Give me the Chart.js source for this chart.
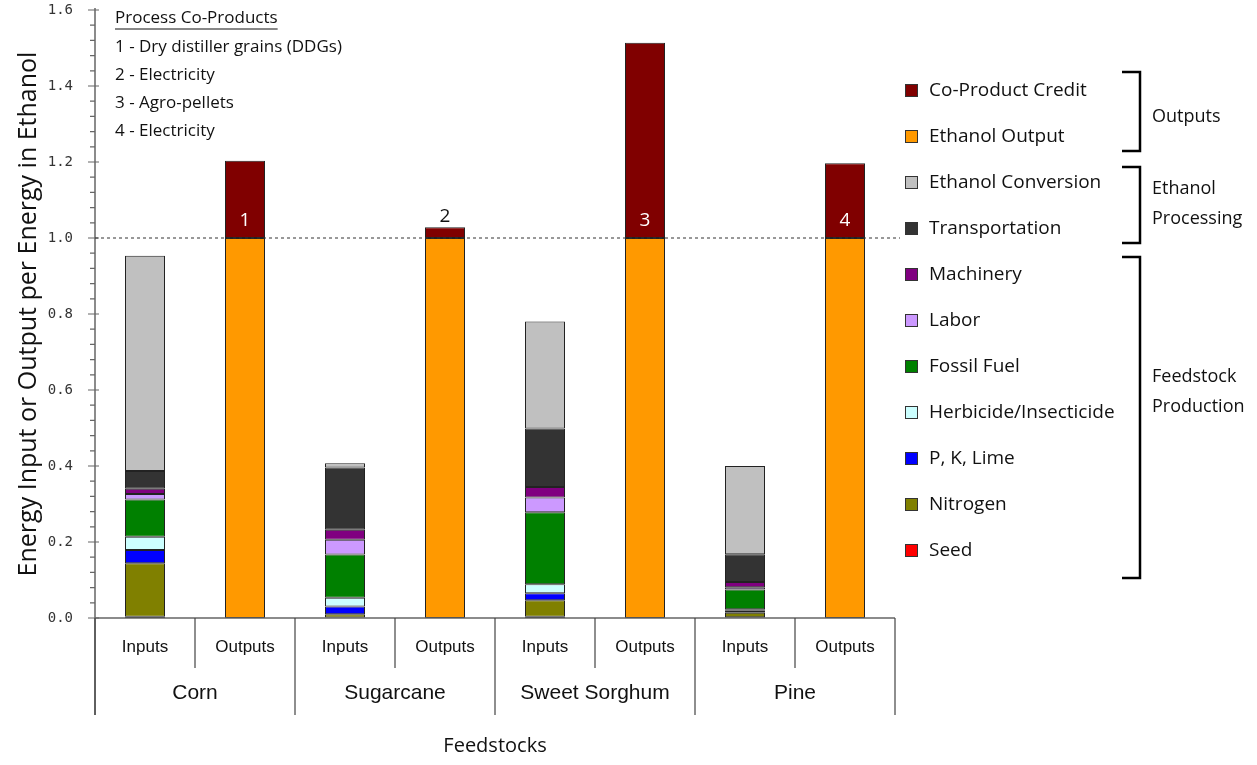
<!DOCTYPE html>
<html>
<head>
<meta charset="utf-8">
<script src="https://cdn.jsdelivr.net/npm/chart.js@4.4.0/dist/chart.umd.min.js"></script>
<style>
html, body { margin: 0; padding: 0; background: #fff; }
#wrap { position: relative; width: 1257px; height: 765px; }
</style>
</head>
<body>
<div id="wrap"><canvas id="energy-chart" width="1257" height="765"></canvas></div>
<script>
// 1. DATOS
const categories = ['Inputs', 'Outputs', 'Inputs', 'Outputs', 'Inputs', 'Outputs', 'Inputs', 'Outputs'];
const feedstocks = ['Corn', 'Sugarcane', 'Sweet Sorghum', 'Pine'];

// inputs (Corn, Sugarcane, Sweet Sorghum, Pine)
const seed           = [0.003, 0.001, 0.003, 0.002];
const nitrogen       = [0.141, 0.009, 0.044, 0.012];
const pkLime         = [0.035, 0.020, 0.018, 0.005];
const herbicide      = [0.035, 0.023, 0.024, 0.004];
const fossilFuel     = [0.098, 0.114, 0.189, 0.052];
const labor          = [0.014, 0.039, 0.039, 0.006];
const machinery      = [0.014, 0.026, 0.028, 0.014];
const transportation = [0.047, 0.164, 0.154, 0.073];
const conversion     = [0.566, 0.011, 0.281, 0.232];

// outputs
const ethanolOutput   = [1.0, 1.0, 1.0, 1.0];
const coProductCredit = [0.203, 0.028, 0.514, 0.197];
const coProductMarks  = ['1', '2', '3', '4'];
const coProductNotes  = ['1 - Dry distiller grains (DDGs)', '2 - Electricity', '3 - Agro-pellets', '4 - Electricity'];

const yTicks = [0, 0.2, 0.4, 0.6, 0.8, 1.0, 1.2, 1.4, 1.6];

const calibri = '"Open Sans", Lato, sans-serif';
const arial = '"Liberation Sans", Arial, sans-serif';

// inputs van en la columna 0, outputs en la 1 de cada grupo
const asInputs = arr => arr.flatMap(v => [v, null]);
const asOutputs = arr => arr.flatMap(v => [null, v]);

const series = [
    { label: 'Seed', data: asInputs(seed), color: '#ff0000' },
    { label: 'Nitrogen', data: asInputs(nitrogen), color: '#808000' },
    { label: 'P, K, Lime', data: asInputs(pkLime), color: '#0000ff' },
    { label: 'Herbicide/Insecticide', data: asInputs(herbicide), color: '#ccffff' },
    { label: 'Fossil Fuel', data: asInputs(fossilFuel), color: '#008000' },
    { label: 'Labor', data: asInputs(labor), color: '#cc99ff' },
    { label: 'Machinery', data: asInputs(machinery), color: '#800080' },
    { label: 'Transportation', data: asInputs(transportation), color: '#333333' },
    { label: 'Ethanol Conversion', data: asInputs(conversion), color: '#c0c0c0' },
    { label: 'Ethanol Output', data: asOutputs(ethanolOutput), color: '#ff9900' },
    { label: 'Co-Product Credit', data: asOutputs(coProductCredit), color: '#800000' }
];

// grupos de la leyenda
const legendGroups = [
    { text: ['Outputs'], top: 72, bottom: 151, mid: 117 },
    { text: ['Ethanol', 'Processing'], top: 167, bottom: 243, mid: 204 },
    { text: ['Feedstock', 'Production'], top: 257, bottom: 578, mid: 392 }
];

// 2. PLUGIN DE DIBUJO EXTRA
const extras = {
    id: 'extras',
    afterDraw(chart) {
        const c = chart.ctx;
        const area = chart.chartArea;
        const y = chart.scales.y;
        const slot = (area.right - area.left) / categories.length;
        c.save();

        // ejes
        c.strokeStyle = '#666';
        c.lineWidth = 1.5;
        c.beginPath();
        c.moveTo(area.left, area.top - 2);
        c.lineTo(area.left, 715);
        c.moveTo(area.left, area.bottom);
        c.lineTo(area.right, area.bottom);
        c.stroke();

        // ticks del eje y
        c.lineWidth = 1.2;
        c.beginPath();
        yTicks.forEach(v => {
            const py = y.getPixelForValue(v);
            c.moveTo(area.left - 7, py);
            c.lineTo(area.left + 4, py);
            if (v < 1.6) {
                for (let k = 1; k < 5; k++) {
                    const pm = y.getPixelForValue(v + k * 0.04);
                    c.moveTo(area.left - 5, pm);
                    c.lineTo(area.left, pm);
                }
            }
        });
        c.stroke();

        // separadores del eje x
        c.strokeStyle = '#444';
        c.lineWidth = 1.2;
        c.beginPath();
        for (let i = 0; i <= categories.length; i++) {
            const px = area.left + i * slot;
            c.moveTo(px, area.bottom);
            c.lineTo(px, i % 2 === 0 ? 715 : 668);
        }
        c.stroke();

        // nombres de feedstocks
        c.fillStyle = '#111';
        c.font = '21px ' + arial;
        c.textAlign = 'center';
        c.textBaseline = 'middle';
        feedstocks.forEach((f, i) => {
            c.fillText(f, area.left + (i * 2 + 1) * slot, 693);
        });

        // linea discontinua en 1.0
        const p1 = y.getPixelForValue(1.0);
        c.strokeStyle = '#333';
        c.lineWidth = 1;
        c.setLineDash([3, 3]);
        c.beginPath();
        c.moveTo(area.left, p1);
        c.lineTo(area.right + 5, p1);
        c.stroke();
        c.setLineDash([]);

        // marcas de co-productos
        const coIdx = series.length - 1;
        const meta = chart.getDatasetMeta(coIdx);
        c.font = '19px ' + calibri;
        coProductMarks.forEach((m, i) => {
            const bar = meta.data[i * 2 + 1];
            if (coProductCredit[i] < 0.1) {
                c.fillStyle = '#111';
                c.fillText(m, bar.x, bar.y - 11);
            } else {
                c.fillStyle = '#fff';
                c.fillText(m, bar.x, bar.base - 17);
            }
        });

        // texto de co-productos
        c.textAlign = 'left';
        c.fillStyle = '#111';
        c.font = '17px ' + calibri;
        c.fillText('Process Co-Products', 115, 18);
        const w = c.measureText('Process Co-Products').width;
        c.strokeStyle = '#111';
        c.lineWidth = 1;
        c.beginPath();
        c.moveTo(115, 29);
        c.lineTo(115 + w, 29);
        c.stroke();
        coProductNotes.forEach((t, i) => c.fillText(t, 115, 47 + i * 28));

        // leyenda
        const items = chart.data.datasets.slice().reverse();
        c.font = '19px ' + calibri;
        items.forEach((ds, k) => {
            const py = 91 + k * 46;
            c.fillStyle = ds.backgroundColor;
            c.fillRect(905, py - 7, 13, 13);
            c.strokeStyle = '#333';
            c.lineWidth = 1;
            c.strokeRect(905.5, py - 6.5, 12, 12);
            c.fillStyle = '#111';
            c.fillText(ds.label, 929, py);
        });

        // corchetes
        c.strokeStyle = '#000';
        c.lineWidth = 2.5;
        c.font = '18px ' + calibri;
        legendGroups.forEach(g => {
            c.beginPath();
            c.moveTo(1122, g.top);
            c.lineTo(1140, g.top);
            c.lineTo(1140, g.bottom);
            c.lineTo(1122, g.bottom);
            c.stroke();
            g.text.forEach((t, j) => {
                c.fillText(t, 1152, g.mid + (j - (g.text.length - 1) / 2) * 30);
            });
        });

        c.restore();
    }
};

// 3. GRAFICA
const ctx = document.getElementById('energy-chart').getContext('2d');
const energyChart = new Chart(ctx, {
    type: 'bar',
    data: {
        labels: categories,
        datasets: series.map(s => ({
            label: s.label,
            data: s.data,
            backgroundColor: s.color,
            borderColor: '#222',
            borderWidth: 1,
            borderSkipped: false,
            categoryPercentage: 1.0,
            barPercentage: 0.4
        }))
    },
    options: {
        responsive: false, animation: false,
        layout: { padding: { top: 10, right: 362, left: 0, bottom: 0 } },
        plugins: { legend: { display: false }, tooltip: { enabled: false } },
        scales: {
            x: {
                stacked: true,
                grid: { display: false },
                border: { display: false },
                ticks: {
                    color: '#111', padding: 11, maxRotation: 0, autoSkip: false,
                    font: { family: arial, size: 17 }
                },
                title: {
                    display: true, text: 'Feedstocks', color: '#111',
                    font: { family: calibri, size: 20 }, padding: { bottom: 7, top: 0 }
                },
                afterFit: s => { s.height = 147; s.paddingLeft = 0; s.paddingRight = 0; }
            },
            y: {
                stacked: true, min: 0, max: 1.6,
                grid: { display: false },
                border: { display: false },
                ticks: {
                    stepSize: 0.2, padding: 14, color: '#333',
                    font: { family: '"DejaVu Sans Mono", monospace', size: 14 },
                    callback: v => Number(v).toFixed(1)
                },
                title: {
                    display: true, text: 'Energy Input or Output per Energy in Ethanol', color: '#111',
                    font: { family: calibri, size: 25 }, padding: { top: 14, bottom: 0 }
                },
                afterFit: s => { s.width = 95; s.paddingTop = 0; s.paddingBottom = 0; }
            }
        }
    },
    plugins: [extras]
});
</script>
</body>
</html>
